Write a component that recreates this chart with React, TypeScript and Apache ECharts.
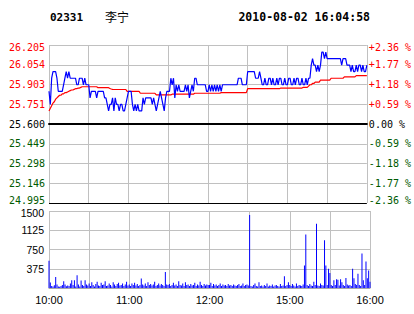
import React, { useEffect, useRef } from "react";
import * as echarts from "echarts";

const stockCode = "02331";
const stockName = "李宁";
const stamp = "2010-08-02 16:04:58";
const prevClose = 25.6;

const priceTicks = ["26.205", "26.054", "25.903", "25.751", "25.600", "25.449", "25.298", "25.146", "24.995"];
const pctTicks = ["+2.36 %", "+1.77 %", "+1.18 %", "+0.59 %", "0.00 %", "-0.59 %", "-1.18 %", "-1.77 %", "-2.36 %"];
const volTicks = [0, 375, 750, 1125, 1500];
const timeTickMinutes = [0, 60, 120, 180, 240];
const timeTickLabels = ["10:00", "11:00", "12:00", "15:00", "16:00"];

const price = [
  25.85, 25.75, 25.95, 26.0, 26.0, 26.0, 25.95, 25.85, 25.85, 25.85,
  25.85, 25.9, 25.95, 26.0, 25.95, 26.0, 25.95, 25.95, 25.95, 25.95,
  25.95, 25.9, 25.9, 25.95, 25.95, 25.95, 25.9, 25.95, 25.9, 25.9,
  25.9, 25.8, 25.85, 25.85, 25.85, 25.85, 25.8, 25.85, 25.85, 25.85,
  25.85, 25.85, 25.8, 25.8, 25.75, 25.7, 25.75, 25.75, 25.8, 25.7,
  25.8, 25.75, 25.75, 25.7, 25.75, 25.75, 25.7, 25.7, 25.75, 25.8,
  25.85, 25.85, 25.85, 25.75, 25.7, 25.75, 25.7, 25.75, 25.7, 25.7,
  25.7, 25.8, 25.75, 25.8, 25.8, 25.8, 25.8, 25.8, 25.75, 25.8,
  25.75, 25.7, 25.75, 25.8, 25.85, 25.8, 25.75, 25.7, 25.8, 25.85,
  25.85, 25.85, 25.95, 25.9, 25.95, 25.8, 25.9, 25.85, 25.9, 25.85,
  25.85, 25.85, 25.85, 25.9, 25.85, 25.9, 25.8, 25.85, 25.9, 25.85,
  25.95, 25.95, 25.9, 25.9, 25.9, 25.9, 25.9, 25.9, 25.9, 25.85,
  25.85, 25.9, 25.85, 25.9, 25.85, 25.9, 25.85, 25.9, 25.85, 25.9,
  25.85, 25.9, 25.9, 25.9, 25.9, 25.9, 25.9, 25.9, 25.9, 25.9,
  25.9, 25.9, 25.9, 25.95, 25.95, 25.95, 25.9, 25.9, 25.9, 25.9,
  26.0, 26.0, 26.0, 26.0, 26.0, 26.0, 25.95, 25.95, 25.95, 26.0,
  25.95, 25.9, 25.9, 25.95, 25.9, 25.9, 25.95, 25.95, 25.9, 25.95,
  25.9, 25.9, 25.95, 25.9, 25.95, 25.95, 25.9, 25.9, 25.95, 25.9,
  25.9, 25.95, 25.95, 25.9, 25.9, 25.95, 25.9, 25.95, 25.95, 25.9,
  25.9, 25.95, 25.9, 25.9, 25.95, 25.9, 25.95, 25.95, 26.05, 26.1,
  26.05, 26.05, 26.0, 26.05, 26.0, 26.05, 26.15, 26.15, 26.1, 26.15,
  26.1, 26.1, 26.1, 26.1, 26.1, 26.1, 26.1, 26.1, 26.1, 26.1,
  26.1, 26.05, 26.1, 26.1, 26.1, 26.05, 26.05, 26.05, 26.0, 26.05,
  26.0, 26.0, 26.05, 26.0, 26.05, 26.05, 26.0, 26.05, 26.0, 26.0,
  26.05,
];

const avgPrice = [
  25.7, 25.72, 25.74, 25.76, 25.77, 25.79, 25.8, 25.81, 25.82, 25.82,
  25.83, 25.83, 25.84, 25.84, 25.845, 25.85, 25.855, 25.86, 25.86, 25.865,
  25.87, 25.87, 25.875, 25.875, 25.88, 25.885, 25.885, 25.885, 25.885, 25.885,
  25.885, 25.885, 25.885, 25.885, 25.885, 25.885, 25.885, 25.878, 25.878, 25.878,
  25.878, 25.878, 25.878, 25.878, 25.878, 25.878, 25.872, 25.868, 25.865, 25.864,
  25.864, 25.864, 25.864, 25.864, 25.864, 25.864, 25.864, 25.864, 25.864, 25.85,
  25.85, 25.85, 25.85, 25.85, 25.85, 25.85, 25.85, 25.85, 25.85, 25.835,
  25.835, 25.835, 25.835, 25.835, 25.835, 25.835, 25.835, 25.835, 25.835, 25.835,
  25.835, 25.823, 25.823, 25.823, 25.823, 25.823, 25.823, 25.823, 25.823, 25.823,
  25.823, 25.823, 25.823, 25.828, 25.828, 25.828, 25.828, 25.828, 25.828, 25.828,
  25.828, 25.828, 25.828, 25.828, 25.828, 25.828, 25.828, 25.828, 25.828, 25.828,
  25.835, 25.835, 25.835, 25.835, 25.835, 25.835, 25.835, 25.835, 25.835, 25.835,
  25.835, 25.835, 25.835, 25.835, 25.835, 25.835, 25.835, 25.835, 25.835, 25.835,
  25.84, 25.84, 25.84, 25.84, 25.84, 25.84, 25.84, 25.84, 25.84, 25.84,
  25.84, 25.84, 25.84, 25.84, 25.84, 25.84, 25.84, 25.84, 25.84, 25.84,
  25.87, 25.87, 25.87, 25.87, 25.87, 25.87, 25.87, 25.87, 25.87, 25.87,
  25.87, 25.87, 25.87, 25.87, 25.87, 25.87, 25.87, 25.87, 25.87, 25.87,
  25.87, 25.87, 25.87, 25.87, 25.87, 25.875, 25.875, 25.875, 25.875, 25.875,
  25.875, 25.875, 25.875, 25.875, 25.875, 25.875, 25.875, 25.875, 25.875, 25.875,
  25.875, 25.875, 25.88, 25.88, 25.88, 25.88, 25.89, 25.9, 25.9, 25.91,
  25.91, 25.92, 25.92, 25.92, 25.92, 25.935, 25.935, 25.935, 25.935, 25.935,
  25.935, 25.935, 25.935, 25.95, 25.95, 25.95, 25.95, 25.95, 25.95, 25.95,
  25.95, 25.95, 25.95, 25.96, 25.96, 25.96, 25.96, 25.96, 25.96, 25.96,
  25.96, 25.96, 25.97, 25.97, 25.97, 25.97, 25.97, 25.97, 25.97, 25.97,
  25.97,
];

const volume = [
  530, 108, 40, 30, 55, 215, 70, 30, 25, 40,
  60, 133, 70, 35, 50, 40, 90, 152, 60, 150,
  30, 247, 70, 30, 148, 60, 40, 150, 70, 50,
  90, 40, 110, 60, 30, 80, 120, 50, 40, 100,
  60, 70, 130, 40, 50, 90, 60, 30, 110, 70,
  40, 80, 100, 50, 60, 90, 40, 70, 120, 50,
  70, 40, 90, 60, 100, 50, 80, 40, 60, 184,
  70, 50, 90, 40, 110, 60, 80, 50, 70, 120,
  40, 60, 90, 50, 80, 60, 40, 310, 70, 60,
  80, 40, 60, 100, 50, 70, 40, 130, 60, 50,
  90, 40, 110, 60, 70, 40, 80, 50, 60, 100,
  40, 70, 50, 120, 60, 40, 80, 50, 70, 60,
  60, 100, 40, 80, 50, 70, 40, 60, 90, 40,
  70, 50, 60, 40, 80, 50, 60, 40, 70, 50,
  40, 60, 80, 40, 50, 90, 40, 60, 70, 50,
  1420, 40, 30, 60, 90, 40, 30, 110, 40, 50,
  30, 60, 40, 90, 30, 50, 40, 70, 30, 50,
  60, 40, 30, 80, 40, 50, 228, 40, 60, 110,
  60, 40, 80, 50, 30, 90, 40, 60, 50, 40,
  70, 436, 1040, 60, 40, 80, 50, 40, 120, 60,
  1250, 50, 40, 90, 60, 50, 930, 436, 60, 374,
  290, 60, 40, 150, 60, 170, 160, 50, 170, 110,
  60, 40, 195, 70, 50, 60, 40, 374, 190, 80,
  60, 278, 60, 40, 670, 150, 60, 518, 190, 341,
  120,
];

const toPct = (p: number) => ((p - prevClose) / prevClose) * 100;
const GRID = "#c0c0c0";
const MONO = '"DejaVu Sans Mono", monospace';
const SANS = '"Liberation Sans", Arial, sans-serif';

export default function App() {
  const ref = useRef<HTMLDivElement>(null);
  useEffect(() => {
    if (!ref.current) return;
    const chart = echarts.init(ref.current, null, { renderer: "svg" });
    const idxOf = (v: number) => 8 - Math.round((v + 2.36) / 0.59);
    const styleKey = (i: number) => (i === 0 ? "rt" : i < 4 ? "r" : i === 4 ? "k" : i === 8 ? "gb" : "g");
    const base = { fontFamily: MONO, fontSize: 10 };
    const rich = {
      r: { ...base, color: "#ff0000" },
      rt: { ...base, color: "#ff0000", padding: [4, 0, 0, 0] },
      k: { ...base, color: "#000000" },
      g: { ...base, color: "#005a00" },
      gb: { ...base, color: "#005a00", padding: [0, 0, 6, 0] },
    };
    const volBase = { fontFamily: SANS, fontSize: 10.5, color: "#000" };
    const volRich = {
      n: { ...volBase },
      t: { ...volBase, padding: [4, 0, 0, 0] },
    };
    const splitColors = ["#000000", GRID, GRID, GRID, "#000000", GRID, GRID, GRID, GRID];
    chart.setOption({
      animation: false,
      backgroundColor: "#ffffff",
      graphic: [
        { type: "text", x: 50, y: 17, style: { text: stockCode, font: `bold 11px ${MONO}`, fill: "#000", textVerticalAlign: "middle" } },
        { type: "text", x: 105, y: 16, style: { text: stockName, font: '12px "Noto Sans CJK SC"', fill: "#000", textVerticalAlign: "middle" } },
        { type: "text", x: 370, y: 17, style: { text: stamp, font: `bold 11.5px ${MONO}`, fill: "#000", textAlign: "right", textVerticalAlign: "middle" } },
      ],
      grid: [
        { left: 49, top: 45, width: 321, height: 158 },
        { left: 49, top: 211, width: 321, height: 77 },
      ],
      xAxis: [
        {
          type: "value", gridIndex: 0, min: 0, max: 240, interval: 30,
          axisLabel: { show: false }, axisTick: { show: false },
          axisLine: { show: true, lineStyle: { color: "#000", width: 2 } },
          splitLine: { show: true, lineStyle: { color: GRID, width: 1 } },
        },
        {
          type: "value", gridIndex: 1, min: 0, max: 240, interval: 30,
          axisTick: { show: false },
          axisLine: { show: true, lineStyle: { color: "#a8a8a8", width: 1 } },
          splitLine: { show: true, lineStyle: { color: GRID, width: 1 } },
          axisLabel: {
            show: true, margin: 6, color: "#000", fontFamily: SANS, fontSize: 11,
            showMinLabel: true, showMaxLabel: true,
            formatter: (v: number) => {
              const i = timeTickMinutes.indexOf(Math.round(v));
              return i >= 0 ? timeTickLabels[i] : "";
            },
          },
        },
      ],
      yAxis: [
        {
          type: "value", gridIndex: 0, position: "left", min: -2.36, max: 2.36, interval: 0.59,
          axisLine: { show: false }, axisTick: { show: false },
          splitLine: { show: true, lineStyle: { color: splitColors, width: 1 } },
          axisLabel: {
            margin: 4, rich,
            formatter: (v: number) => {
              const i = idxOf(v);
              return `{${styleKey(i)}|${priceTicks[i]}}`;
            },
          },
        },
        {
          type: "value", gridIndex: 0, position: "right", min: -2.36, max: 2.36, interval: 0.59,
          axisLine: { show: false }, axisTick: { show: false }, splitLine: { show: false },
          axisLabel: {
            margin: 2, rich,
            formatter: (v: number) => {
              const i = idxOf(v);
              return `{${styleKey(i)}|${pctTicks[i]}}`;
            },
          },
        },
        {
          type: "value", gridIndex: 1, position: "left", min: 0, max: 1500, interval: 375,
          axisLine: { show: false }, axisTick: { show: false },
          splitLine: { show: true, lineStyle: { color: GRID, width: 1 } },
          axisLabel: {
            margin: 5, rich: volRich,
            formatter: (v: number) => {
              if (v === volTicks[0]) return "";
              return v === volTicks[volTicks.length - 1] ? `{t|${v}}` : `{n|${v}}`;
            },
          },
        },
      ],
      series: [
        {
          type: "line", xAxisIndex: 0, yAxisIndex: 0, symbol: "none",
          data: avgPrice.map((p, i) => [i, toPct(p)]),
          lineStyle: { color: "#ff0000", width: 1.2 }, z: 3,
        },
        {
          type: "line", xAxisIndex: 0, yAxisIndex: 0, symbol: "none",
          data: price.map((p, i) => [i, toPct(p)]),
          lineStyle: { color: "#0000ff", width: 1.2 }, z: 4,
        },
        {
          type: "bar", xAxisIndex: 1, yAxisIndex: 2, barWidth: 1,
          data: volume.map((v, i) => [i, v]),
          itemStyle: { color: "#0000ff" },
        },
      ],
    });
    return () => chart.dispose();
  }, []);
  return (
    <div
      ref={ref}
      style={{ position: "fixed", left: 0, top: 0, width: 414, height: 314, background: "#fff" }}
    />
  );
}
